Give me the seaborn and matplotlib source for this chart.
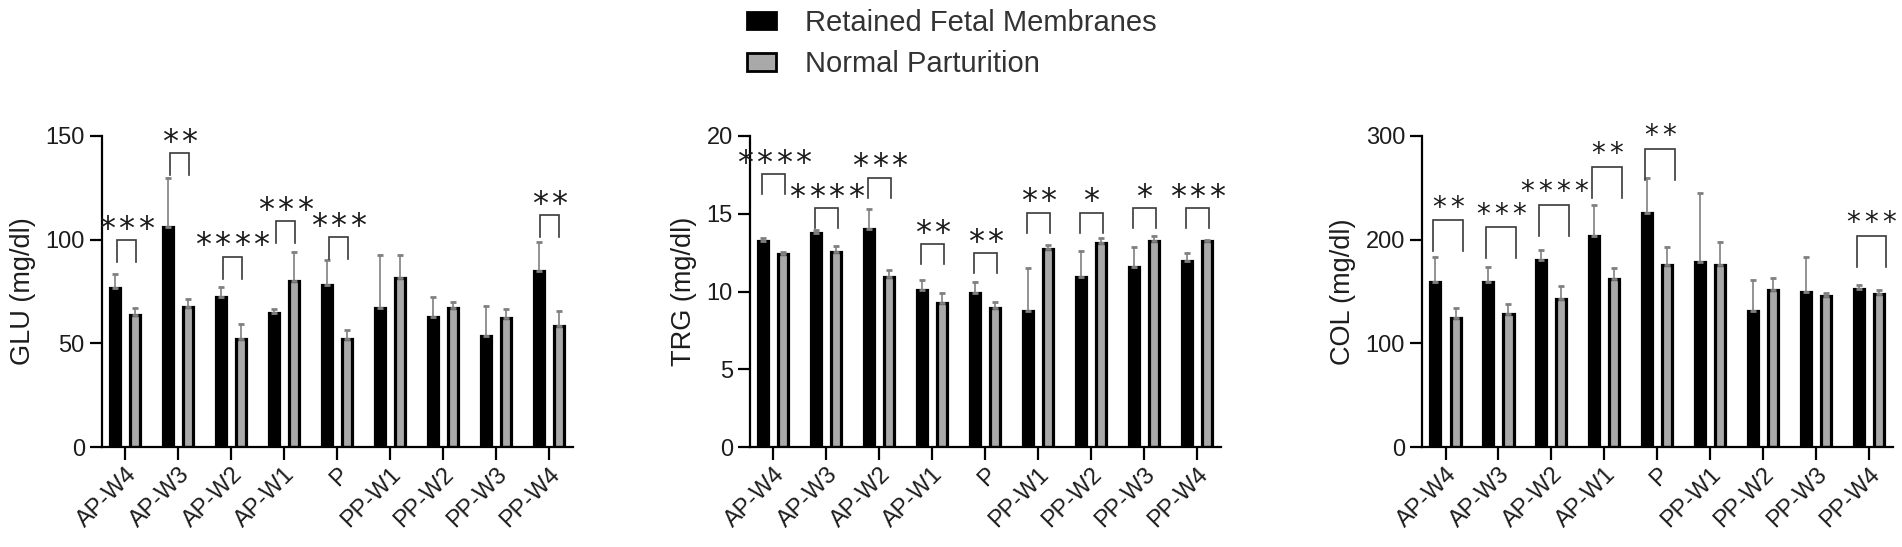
import numpy as np
import pandas as pd
import matplotlib
matplotlib.use("Agg")
import matplotlib.pyplot as plt
import seaborn as sns
from matplotlib.patches import Patch

# ---------------- data ----------------
categories = ["AP-W4", "AP-W3", "AP-W2", "AP-W1", "P", "PP-W1", "PP-W2", "PP-W3", "PP-W4"]
groups = ["Retained Fetal Membranes", "Normal Parturition"]

glu_rfm = [76.8, 105.9, 72.4, 64.5, 78.3, 66.9, 62.9, 53.5, 85.1]
glu_rfm_sd = [6.8, 24.0, 4.9, 2.1, 11.9, 25.6, 9.6, 14.6, 13.8]
glu_np = [63.7, 67.3, 52.1, 79.9, 52.1, 81.5, 66.9, 62.1, 58.2]
glu_np_sd = [3.2, 4.0, 7.4, 14.2, 4.5, 11.0, 3.1, 4.5, 7.3]
glu_sig = ["***", "**", "****", "***", "***", "", "", "", "**"]
glu_sig_level = [99.6, 141.6, 91.8, 108.8, 101.2, 0, 0, 0, 111.8]

trg_rfm = [13.22, 13.78, 14.01, 10.10, 9.88, 8.75, 10.95, 11.59, 11.98]
trg_rfm_sd = [0.25, 0.19, 1.29, 0.64, 0.71, 2.76, 1.67, 1.24, 0.51]
trg_np = [12.41, 12.51, 10.95, 9.26, 8.94, 12.73, 13.13, 13.24, 13.24]
trg_np_sd = [0.10, 0.43, 0.45, 0.62, 0.41, 0.26, 0.28, 0.30, 0.07]
trg_sig = ["****", "****", "***", "**", "**", "**", "*", "*", "***"]
trg_sig_level = [17.54, 15.34, 17.33, 13.05, 12.47, 15.08, 15.08, 15.34, 15.34]

col_rfm = [159.0, 159.0, 180.3, 203.9, 226.2, 178.6, 131.1, 149.8, 152.5]
col_rfm_sd = [23.9, 14.7, 9.8, 29.5, 33.5, 66.6, 30.2, 33.7, 3.5]
col_np = [124.5, 127.9, 143.2, 162.3, 175.4, 175.4, 151.5, 145.2, 147.5]
col_np_sd = [9.3, 9.8, 11.8, 10.8, 17.4, 21.9, 11.8, 3.3, 4.3]
col_sig = ["**", "***", "****", "**", "**", "", "", "", "***"]
col_sig_level = [218.7, 212.0, 233.5, 270.5, 287.8, 0, 0, 0, 203.9]

ylabels = ["GLU (mg/dl)", "TRG (mg/dl)", "COL (mg/dl)"]
yticks = [[0, 50, 100, 150], [0, 5, 10, 15, 20], [0, 100, 200, 300]]

# ---------------- style ----------------
plt.rcParams["font.family"] = ["Liberation Sans", "DejaVu Sans"]
W, H = 1902, 547
BLACK = "#000000"
GRAY = "#a9a9a9"
TXT = "#1c1c1c"

fig = plt.figure(figsize=(W / 100, H / 100), dpi=100)

panel_left = [101.5, 749.5, 1421.7]
ax_w = 471
ax_bot = 447
ax_top = 136
# per-panel bracket geometry:
# (width in units, center offset in units, leg px, star pitch px, star font size)
bracket_geo = [(0.36, 0.02, 22, 19.5, 23), (0.44, 0.01, 20, 19.5, 23),
               (0.56, 0.05, 31, 18.0, 20)]

panels = [
    (glu_rfm, glu_rfm_sd, glu_np, glu_np_sd, glu_sig, glu_sig_level),
    (trg_rfm, trg_rfm_sd, trg_np, trg_np_sd, trg_sig, trg_sig_level),
    (col_rfm, col_rfm_sd, col_np, col_np_sd, col_sig, col_sig_level),
]

for p, (rfm, rfm_sd, npv, np_sd, sig, sig_lvl) in enumerate(panels):
    ax = fig.add_axes([panel_left[p] / W, (H - ax_bot) / H, ax_w / W, (ax_bot - ax_top) / H])
    df = pd.DataFrame({
        "time": categories * 2,
        "group": [groups[0]] * len(categories) + [groups[1]] * len(categories),
        "value": list(rfm) + list(npv),
    })
    sns.barplot(data=df, x="time", y="value", hue="group", order=categories,
                hue_order=groups, palette=[BLACK, GRAY], saturation=1,
                width=0.76, gap=0.5, errorbar=None, edgecolor=BLACK,
                linewidth=2.3, legend=False, ax=ax, zorder=2)
    for cont, means, sds in zip(ax.containers, [rfm, npv], [rfm_sd, np_sd]):
        xs = [b.get_x() + b.get_width() / 2 for b in cont]
        ax.errorbar(xs, means, yerr=[np.zeros(len(sds)), sds], fmt="none",
                    ecolor="#808080", elinewidth=1.2, capsize=2.4, capthick=2.0,
                    zorder=3, clip_on=False)

    ymax = yticks[p][-1]
    ax.set_xlim(-0.45, 8.45)
    ax.set_ylim(0, ymax)
    ax.set_yticks(yticks[p])
    ax.set_xlabel("")
    ax.set_ylabel(ylabels[p], fontsize=19.5, color=TXT, labelpad=7)
    for s in ["top", "right"]:
        ax.spines[s].set_visible(False)
    for s in ["left", "bottom"]:
        ax.spines[s].set_linewidth(1.6)
        ax.spines[s].set_color(BLACK)
    ax.tick_params(axis="both", direction="out", length=9, width=1.6, colors=BLACK,
                   labelcolor=TXT, labelsize=17, pad=3)
    ax.set_xticks(range(len(categories)))
    ax.set_xticklabels(categories, rotation=45, ha="right", va="top",
                       rotation_mode="anchor")
    for lab in ax.get_xticklabels():
        lab.set_fontsize(17)

    ppu = (ax_bot - ax_top) / ymax  # pixels per unit
    bw, boff, leg_px, pitch, sfs = bracket_geo[p]
    for i, (st, lvl) in enumerate(zip(sig, sig_lvl)):
        if not st:
            continue
        xc = i + boff
        x0, x1 = xc - bw / 2, xc + bw / 2
        leg = leg_px / ppu
        ax.plot([x0, x0, x1, x1], [lvl - leg, lvl, lvl, lvl - leg], color="#3a3a3a",
                lw=1.2, clip_on=False, zorder=4, solid_joinstyle="miter")
        n = len(st)
        for k in range(n):
            dx_px = (k - (n - 1) / 2) * pitch
            ax.annotate("*", xy=(xc, lvl),
                        xytext=(dx_px * 0.72, 20 * 0.72 - 0.55 * sfs),
                        textcoords="offset points", ha="center", va="baseline",
                        fontsize=sfs, family="DejaVu Sans", color=TXT,
                        annotation_clip=False)

handles = [Patch(facecolor=BLACK, edgecolor=BLACK, linewidth=2.0),
           Patch(facecolor=GRAY, edgecolor=BLACK, linewidth=2.0)]
fig.legend(handles=handles, labels=groups, loc="upper left",
           bbox_to_anchor=(746.7 / W, 1 - 9 / H), frameon=False, fontsize=21,
           handlelength=1.0, handleheight=0.55, handletextpad=1.0,
           labelspacing=0.45, borderpad=0, borderaxespad=0, labelcolor="#333333")

fig.savefig("out.png", dpi=100)
